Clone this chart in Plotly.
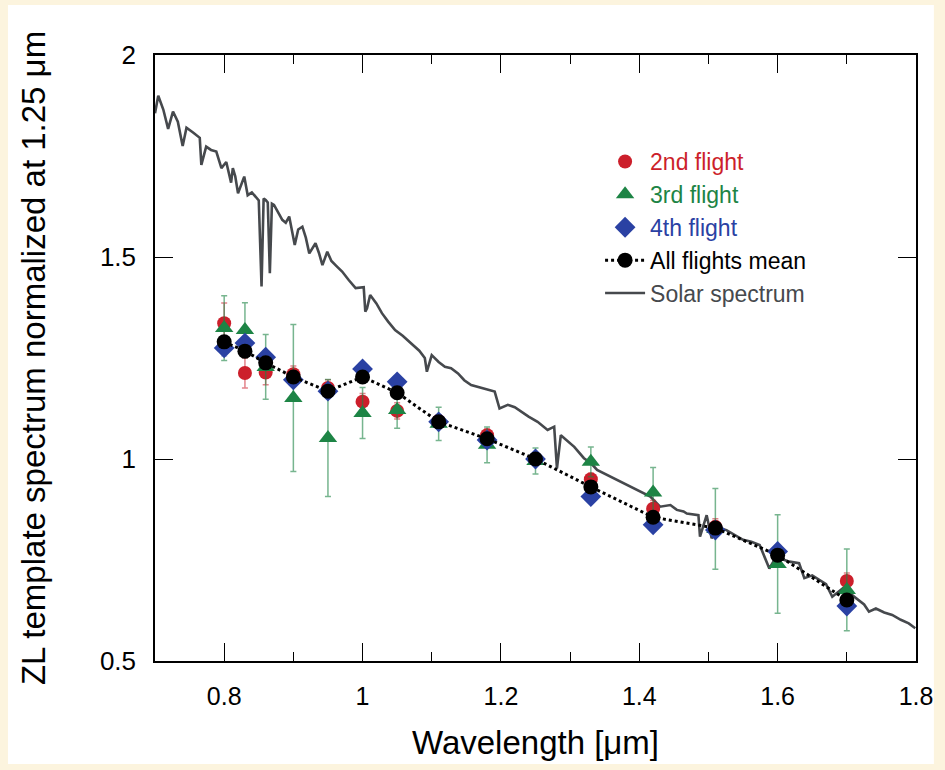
import plotly.graph_objects as go

# ---------------- data ----------------
wavelength = [0.80, 0.83, 0.86, 0.90, 0.95, 1.00, 1.05, 1.11, 1.18, 1.25, 1.33, 1.42, 1.51, 1.60, 1.70]

flight2 = [1.336, 1.213, 1.214, 1.210, 1.176, 1.142, 1.119, 1.094, 1.059, 1.000, 0.950, 0.877, 0.832, 0.767, 0.698]
flight2_err = [0.05, 0.037, 0.03, 0.02, 0.02, 0.02, 0.02, 0.015, 0.015, 0.01, 0.015, 0.02, 0.02, 0.02, 0.02]

flight3 = [1.324, 1.319, 1.228, 1.151, 1.052, 1.114, 1.121, 1.087, 1.035, 0.995, 0.993, 0.917, 0.827, 0.740, 0.676]
flight3_err = [0.08, 0.068, 0.08, 0.182, 0.145, 0.063, 0.045, 0.041, 0.044, 0.032, 0.037, 0.062, 0.100, 0.122, 0.101]

flight4 = [1.275, 1.287, 1.252, 1.196, 1.168, 1.223, 1.191, 1.092, 1.047, 1.000, 0.907, 0.837, 0.824, 0.771, 0.636]
flight4_err = [0.02, 0.015, 0.015, 0.015, 0.015, 0.015, 0.015, 0.01, 0.01, 0.01, 0.01, 0.01, 0.01, 0.01, 0.01]

mean_all = [1.290, 1.267, 1.238, 1.203, 1.168, 1.203, 1.164, 1.092, 1.050, 1.000, 0.931, 0.856, 0.829, 0.762, 0.651]

solar_wl = [0.700, 0.7047, 0.712, 0.719, 0.726, 0.733, 0.740, 0.7455, 0.755, 0.7647, 0.767, 0.774,
            0.781, 0.7886, 0.796, 0.803, 0.810, 0.8125, 0.816, 0.820, 0.829, 0.834, 0.840, 0.846,
            0.850, 0.854, 0.857, 0.860, 0.863, 0.866, 0.869, 0.872, 0.878, 0.884, 0.889, 0.894,
            0.902, 0.907, 0.913, 0.918, 0.923, 0.932, 0.937, 0.942, 0.949, 0.955, 0.962, 0.9705,
            0.980, 0.990, 1.0017, 1.004, 1.0065, 1.011, 1.020, 1.028, 1.037, 1.047, 1.058, 1.071,
            1.082, 1.090, 1.093, 1.100, 1.110, 1.119, 1.128, 1.138, 1.147, 1.157, 1.168, 1.180,
            1.191, 1.198, 1.210, 1.220, 1.229, 1.240, 1.253, 1.2675, 1.277, 1.281, 1.2866, 1.296,
            1.306, 1.320, 1.330, 1.339, 1.354, 1.363, 1.373, 1.385, 1.397, 1.416, 1.430, 1.445,
            1.4543, 1.464, 1.4687, 1.4855, 1.4878, 1.4974, 1.5046, 1.515, 1.526, 1.538, 1.550,
            1.562, 1.574, 1.588, 1.598, 1.607, 1.617, 1.631, 1.6386, 1.650, 1.660, 1.670, 1.679,
            1.694, 1.704, 1.714, 1.725, 1.732, 1.742, 1.754, 1.7656, 1.778, 1.7895, 1.799]
solar_flux = [1.856, 1.899, 1.865, 1.817, 1.860, 1.835, 1.775, 1.820, 1.808, 1.795, 1.728, 1.773,
              1.765, 1.761, 1.720, 1.735, 1.684, 1.720, 1.700, 1.658, 1.699, 1.653, 1.660, 1.649,
              1.640, 1.427, 1.645, 1.641, 1.635, 1.460, 1.632, 1.629, 1.610, 1.592, 1.585, 1.600,
              1.530, 1.568, 1.575, 1.548, 1.509, 1.534, 1.510, 1.480, 1.513, 1.490, 1.478, 1.464,
              1.443, 1.423, 1.425, 1.365, 1.373, 1.406, 1.385, 1.361, 1.340, 1.319, 1.305, 1.286,
              1.268, 1.250, 1.216, 1.257, 1.240, 1.228, 1.225, 1.212, 1.195, 1.183, 1.178, 1.172,
              1.167, 1.125, 1.134, 1.128, 1.117, 1.105, 1.092, 1.072, 1.080, 0.977, 1.059, 1.045,
              1.030, 1.002, 0.990, 0.973, 0.960, 0.952, 0.944, 0.935, 0.923, 0.907, 0.882, 0.886,
              0.874, 0.870, 0.865, 0.861, 0.808, 0.861, 0.804, 0.830, 0.824, 0.812, 0.800,
              0.795, 0.787, 0.729, 0.758, 0.752, 0.746, 0.742, 0.705, 0.712, 0.700, 0.690, 0.659,
              0.680, 0.668, 0.655, 0.640, 0.622, 0.630, 0.620, 0.614, 0.602, 0.593, 0.581]

x_tickvals = [0.8, 1.0, 1.2, 1.4, 1.6, 1.8]
x_ticktext = ["0.8", "1", "1.2", "1.4", "1.6", "1.8"]
y_tickvals = [0.5, 1.0, 1.5, 2.0]
y_ticktext = ["0.5", "1", "1.5", "2"]

RED = "#cc1f2b"
GREEN = "#1d8445"
BLUE = "#2a41a3"
GRAY = "#46494d"
FONT = "Liberation Sans, Arial"

fig = go.Figure()

fig.add_trace(go.Scatter(
    x=solar_wl, y=solar_flux, mode="lines",
    line=dict(color=GRAY, width=2.6),
    name=f"<span style='color:{GRAY}'>Solar spectrum</span>", legendrank=5))

fig.add_trace(go.Scatter(
    x=wavelength, y=flight2, mode="markers",
    marker=dict(symbol="circle", size=14, color=RED),
    error_y=dict(type="data", array=flight2_err, color="rgba(204,31,43,0.55)", thickness=1.5, width=3),
    name=f"<span style='color:{RED}'>2nd flight</span>", legendrank=1))

fig.add_trace(go.Scatter(
    x=wavelength, y=flight3, mode="markers",
    marker=dict(symbol="triangle-up", size=16, color=GREEN),
    error_y=dict(type="data", array=flight3_err, color="rgba(29,132,69,0.6)", thickness=1.5, width=3),
    name=f"<span style='color:{GREEN}'>3rd flight</span>", legendrank=2))

fig.add_trace(go.Scatter(
    x=wavelength, y=flight4, mode="markers",
    marker=dict(symbol="diamond", size=16, color=BLUE),
    error_y=dict(type="data", array=flight4_err, color="rgba(42,65,163,0.5)", thickness=1.2, width=3),
    name=f"<span style='color:{BLUE}'>4th flight</span>", legendrank=3))

fig.add_trace(go.Scatter(
    x=wavelength, y=mean_all, mode="lines+markers",
    line=dict(color="black", width=3, dash="dot"),
    marker=dict(symbol="circle", size=15, color="black"),
    name="<span style='color:black'>All flights mean</span>", legendrank=4))

axis_common = dict(
    showgrid=False, zeroline=False, showline=True, linecolor="black", linewidth=1.5,
    mirror="ticks", ticks="inside", tickcolor="black", tickwidth=1.3, ticklen=18,
)

fig.update_xaxes(
    range=[0.7, 1.8], tickvals=x_tickvals, ticktext=x_ticktext,
    tickfont=dict(size=25, color="black", family=FONT),
    ticklabelstandoff=12,
    minor=dict(ticks="inside", ticklen=9, tickwidth=1.3, tickcolor="black", dtick=0.1, tick0=0.7),
    title=dict(text="Wavelength [μm]", font=dict(size=33, color="black", family=FONT), standoff=22),
    **axis_common)

fig.update_yaxes(
    range=[0.5, 2.0], tickvals=y_tickvals, ticktext=y_ticktext,
    tickfont=dict(size=26, color="black", family=FONT),
    ticklabelstandoff=12,
    title=dict(text="ZL template spectrum normalized at 1.25 μm",
               font=dict(size=33, color="black", family=FONT), standoff=44),
    **axis_common)

W, H = 945, 770
L, R, T, B = 155, 24, 55, 109
pw, ph = W - L - R, H - T - B

def px_x(p):
    return (p - L) / pw

def px_y(p):
    return 1 - (p - T) / ph

fig.add_shape(type="rect", xref="paper", yref="paper",
              x0=px_x(7), x1=px_x(W - 6), y0=px_y(H - 6), y1=px_y(5),
              fillcolor="white", line=dict(width=0), layer="below")

fig.update_layout(
    width=W, height=H,
    margin=dict(l=L, r=R, t=T, b=B),
    paper_bgcolor="#fcf4de", plot_bgcolor="white",
    font=dict(family=FONT, color="black"),
    legend=dict(x=px_x(603), y=px_y(140), xanchor="left", yanchor="top",
                bgcolor="rgba(0,0,0,0)", font=dict(size=23, family=FONT),
                tracegroupgap=0, itemwidth=40, traceorder="normal"),
    showlegend=True,
)

fig.write_html("out.html")
